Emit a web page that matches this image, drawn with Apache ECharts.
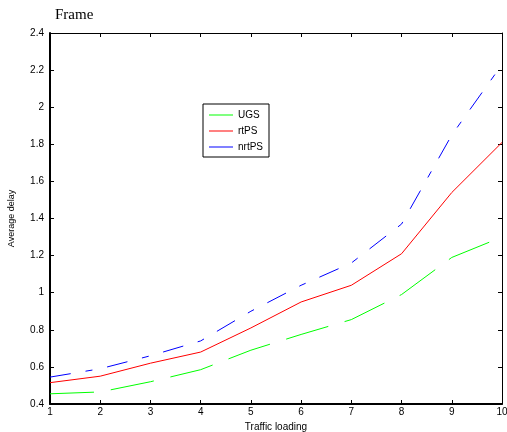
<!DOCTYPE html>
<html><head><meta charset="utf-8">
<script src="https://cdn.jsdelivr.net/npm/echarts@6/dist/echarts.min.js"></script>
<style>html,body{margin:0;padding:0;background:#fff}#c{width:507px;height:432px}</style>
</head><body><div id="c"></div>
<script>
const categories = [1,2,3,4,5,6,7,8,9,10];
const ugs   = [0.455,0.465,0.52,0.585,0.69,0.775,0.855,0.99,1.19,1.30];
const rtps  = [0.515,0.55,0.62,0.68,0.81,0.95,1.04,1.21,1.54,1.81];
const nrtps = [0.545,0.59,0.66,0.74,0.90,1.04,1.16,1.37,1.85,2.23];
const seriesNames = ['UGS','rtPS','nrtPS'];
const yTicks = [0.4,0.6,0.8,1,1.2,1.4,1.6,1.8,2,2.2,2.4];

const chart = echarts.init(document.getElementById('c'));
const font = 'Liberation Sans, Arial, sans-serif';
function axisCommon(w){
  return {
    axisLine:{show:true,onZero:false,lineStyle:{color:'#000',width:w}},
    axisTick:{show:true,inside:true,length:4,lineStyle:{color:'#000'}},
    splitLine:{show:false}
  };
}
chart.setOption({
  animation:false,
  backgroundColor:'#fff',
  title:{text:'Frame',left:50,top:3,textStyle:{fontFamily:'Liberation Serif, Times New Roman, serif',fontWeight:'normal',fontSize:15,color:'#000'}},
  legend:{
    orient:'vertical',left:203,top:104,itemWidth:24,itemHeight:1,itemGap:6,
    padding:[6,6,5,6],
    borderColor:'#000',borderWidth:1,backgroundColor:'#fff',
    textStyle:{fontFamily:font,fontSize:10,color:'#000'},
    data:seriesNames.map(n=>({name:n,icon:'rect'}))
  },
  grid:{left:50,right:5,top:33,bottom:28,outerBoundsMode:'none',containLabel:false},
  xAxis:[
    Object.assign({type:'value',min:1,max:10,interval:1,position:'bottom',
      name:'Traffic loading',nameLocation:'middle',nameGap:13,
      nameTextStyle:{fontFamily:font,fontSize:10,color:'#000',verticalAlign:'top'},
      axisLabel:{fontFamily:font,fontSize:10,color:'#000',margin:3}},axisCommon(2)),
    Object.assign({type:'value',min:1,max:10,interval:1,position:'top',axisLabel:{show:false}},axisCommon(1))
  ],
  yAxis:[
    Object.assign({type:'value',min:0.4,max:2.4,interval:0.2,position:'left',
      name:'Average delay',nameLocation:'middle',nameGap:34,nameRotate:90,
      nameTextStyle:{fontFamily:font,fontSize:9,color:'#000'},
      axisLabel:{fontFamily:font,fontSize:10,color:'#000',margin:6,
        formatter:v=>{const t=yTicks.find(x=>Math.abs(x-v)<1e-6);return t===undefined?'':String(t);}}},axisCommon(2)),
    Object.assign({type:'value',min:0.4,max:2.4,interval:0.2,position:'right',axisLabel:{show:false}},axisCommon(1))
  ],
  series:[
    {name:'UGS',type:'line',data:categories.map((c,i)=>[c,ugs[i]]),symbol:'none',
      lineStyle:{color:'#00ff00',width:1,type:[44,17]},itemStyle:{color:'#00ff00'}},
    {name:'rtPS',type:'line',data:categories.map((c,i)=>[c,rtps[i]]),symbol:'none',
      lineStyle:{color:'#ff0000',width:1,type:'solid'},itemStyle:{color:'#ff0000'}},
    {name:'nrtPS',type:'line',data:categories.map((c,i)=>[c,nrtps[i]]),symbol:'none',
      lineStyle:{color:'#0000ff',width:1,type:[21,15,7,15]},itemStyle:{color:'#0000ff'}}
  ]
});
</script></body></html>
